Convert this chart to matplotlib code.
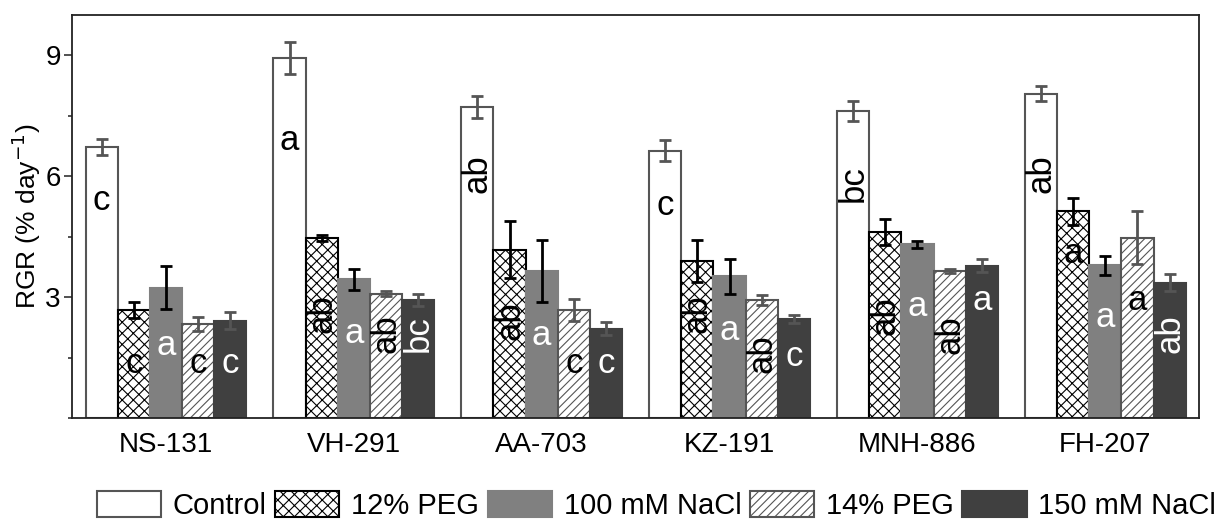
import numpy as np
import matplotlib
matplotlib.use("Agg")
import matplotlib.pyplot as plt
from matplotlib.ticker import MultipleLocator

plt.rcParams['font.family'] = ['Liberation Sans', 'DejaVu Sans']
plt.rcParams['hatch.linewidth'] = 0.8

# Data
cultivars = ["NS-131", "VH-291", "AA-703", "KZ-191", "MNH-886", "FH-207"]
treatments = ["Control", "12% PEG", "100 mM NaCl", "14% PEG", "150 mM NaCl"]

control = [6.73, 8.94, 7.72, 6.63, 7.62, 8.05]
peg12 = [2.69, 4.47, 4.18, 3.90, 4.62, 5.13]
nacl100 = [3.24, 3.44, 3.64, 3.52, 4.31, 3.79]
peg14 = [2.33, 3.09, 2.69, 2.93, 3.64, 4.48]
nacl150 = [2.41, 2.94, 2.22, 2.45, 3.78, 3.36]

control_err = [0.20, 0.39, 0.27, 0.26, 0.26, 0.19]
peg12_err = [0.20, 0.08, 0.71, 0.53, 0.33, 0.34]
nacl100_err = [0.53, 0.25, 0.77, 0.43, 0.08, 0.23]
peg14_err = [0.17, 0.07, 0.27, 0.12, 0.05, 0.65]
nacl150_err = [0.21, 0.15, 0.17, 0.10, 0.16, 0.21]

# significance letters and their y positions
control_lab = ["c", "a", "ab", "c", "bc", "ab"]
peg12_lab = ["c", "ab", "ab", "ab", "ab", "a"]
nacl100_lab = ["a", "a", "a", "a", "a", "a"]
peg14_lab = ["c", "ab", "c", "ab", "ab", "a"]
nacl150_lab = ["c", "bc", "c", "c", "a", "ab"]

control_lab_y = [5.4, 6.9, 6.07, 5.28, 5.82, 6.07]
peg12_lab_y = [1.36, 2.6, 2.43, 2.6, 2.55, 4.08]
nacl100_lab_y = [1.8, 2.1, 2.06, 2.18, 2.76, 2.5]
peg14_lab_y = [1.36, 2.1, 1.36, 1.6, 2.06, 2.93]
nacl150_lab_y = [1.36, 2.1, 1.36, 1.52, 2.93, 2.1]

values = [control, peg12, nacl100, peg14, nacl150]
errors = [control_err, peg12_err, nacl100_err, peg14_err, nacl150_err]
labels = [control_lab, peg12_lab, nacl100_lab, peg14_lab, nacl150_lab]
label_y = [control_lab_y, peg12_lab_y, nacl100_lab_y, peg14_lab_y, nacl150_lab_y]

# styles per treatment
faces = ["white", "white", "#808080", "white", "#404040"]
edges = ["#555555", "black", "#808080", "#555555", "#404040"]
hatches = [None, "xxx", None, "////", None]
err_colors = ["#555555", "black", "black", "#555555", "#555555"]
text_colors = ["black", "black", "white", "black", "white"]

fig = plt.figure(figsize=(12.2, 5.2), dpi=100)
ax = fig.add_axes([0.059, 0.196, 0.924, 0.775])

x = np.arange(len(cultivars))
w = 0.171

for i in range(len(treatments)):
    pos = x + (i - 2) * w
    ax.bar(pos, values[i], width=w, color=faces[i], edgecolor=edges[i],
           hatch=hatches[i], linewidth=1.5, label=treatments[i], zorder=2)
    ax.errorbar(pos, values[i], yerr=errors[i], fmt="none", ecolor=err_colors[i],
                elinewidth=2, capsize=4, capthick=2, zorder=3)
    for j in range(len(cultivars)):
        lab = labels[i][j]
        rot = 90 if len(lab) > 1 else 0
        ax.text(pos[j], label_y[i][j], lab, ha="center", va="center",
                rotation=rot, fontsize=25, color=text_colors[i], zorder=4)

ax.set_xlim(-0.5, 5.5)
ax.set_ylim(0, 10)
ax.set_xticks(x)
ax.set_xticklabels(cultivars, fontsize=20)
ax.tick_params(axis="x", length=0, pad=10)
ax.yaxis.set_minor_locator(MultipleLocator(1.5))
ax.set_yticks([3, 6, 9])
ax.tick_params(axis="y", which="major", length=6, width=1.2, labelsize=20,
               color="#333333", pad=2)
ax.tick_params(axis="y", which="minor", length=3, width=1.2, color="#333333")
ax.set_ylabel("RGR (% day$^{-1}$)", fontsize=19, labelpad=2)
for s in ax.spines.values():
    s.set_linewidth(1.3)
    s.set_color("#222222")

ax.legend(loc="center", bbox_to_anchor=(0.538, 0.028), bbox_transform=fig.transFigure,
          ncol=5, frameon=False, fontsize=21, handlelength=2.2, handleheight=1.0,
          handletextpad=0.4, columnspacing=0.3, borderpad=0.2)

plt.savefig("out.png", dpi=100)
